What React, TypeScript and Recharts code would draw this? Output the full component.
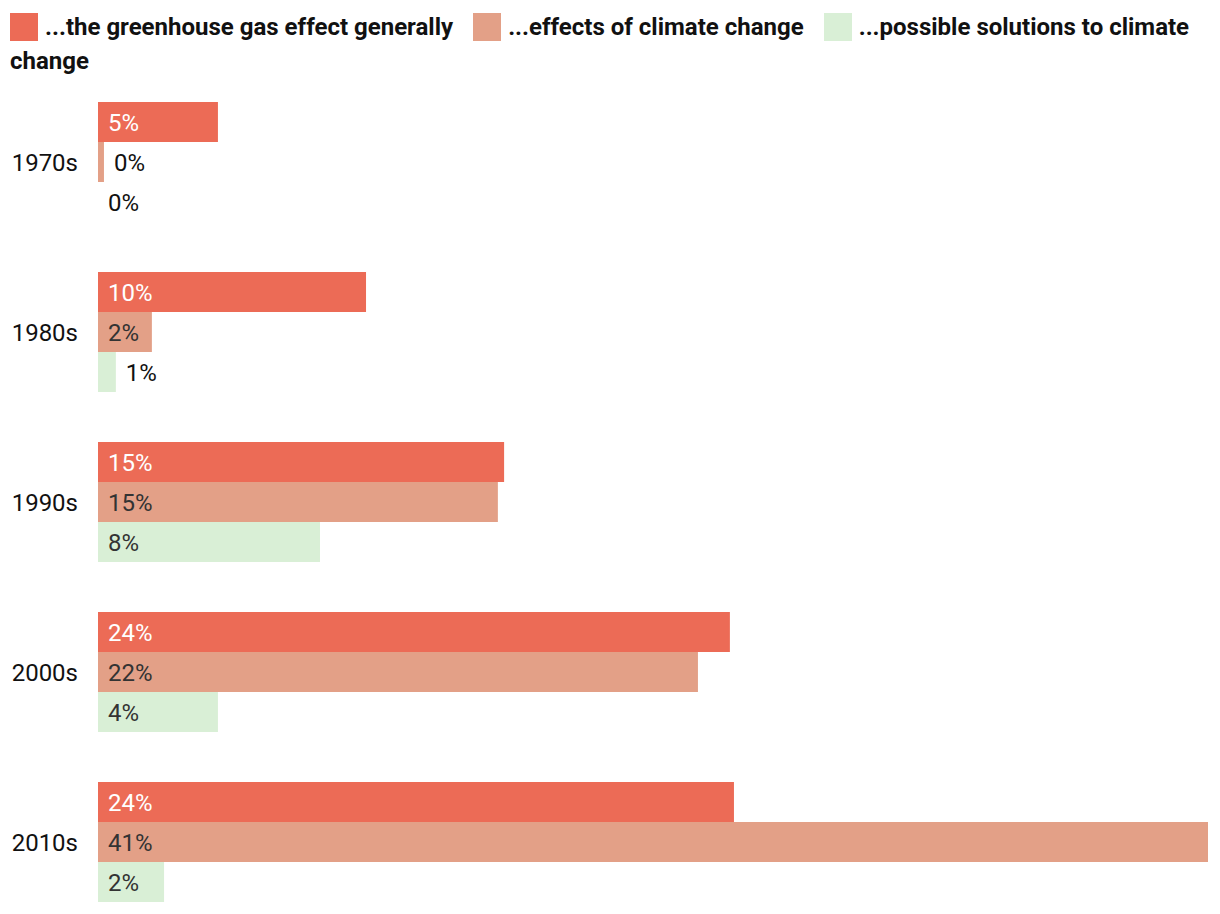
import React from "react";
import { BarChart, Bar, XAxis, YAxis } from "recharts";

const categories = ["1970s", "1980s", "1990s", "2000s", "2010s"];
const seriesNames = [
  "...the greenhouse gas effect generally",
  "...effects of climate change",
  "...possible solutions to climate change",
];
const seriesColors = ["#ec6b56", "#e3a087", "#d9efd6"];
const insideTextColors = ["#ffffff", "#333333", "#333333"];

const greenhouseValues = [4.43, 9.9, 15.0, 23.34, 23.49];
const effectsValues = [0.22, 1.99, 14.77, 22.16, 41.0];
const solutionsValues = [0, 0.66, 8.2, 4.43, 2.44];

const greenhouseLabels = ["5%", "10%", "15%", "24%", "24%"];
const effectsLabels = ["0%", "2%", "15%", "22%", "41%"];
const solutionsLabels = ["0%", "1%", "8%", "4%", "2%"];

const keys = ["greenhouse", "effects", "solutions"];

const data = categories.map((c, i) => ({
  decade: c,
  greenhouse: greenhouseValues[i],
  effects: effectsValues[i],
  solutions: solutionsValues[i],
  greenhouseLabel: greenhouseLabels[i],
  effectsLabel: effectsLabels[i],
  solutionsLabel: solutionsLabels[i],
}));

const FONT = "Roboto, 'Noto Sans', sans-serif";

function makeShape(key: string, fill: string, insideColor: string) {
  return (props: any) => {
    const x = Number(props.x) || 0;
    const y = Number(props.y) || 0;
    const w = Math.max(0, Number(props.width) || 0);
    const h = Number(props.height) || 0;
    const label = props.payload ? props.payload[key + "Label"] : "";
    const inside = w > 40;
    const tx = inside ? x + 10 : x + w + 10;
    return (
      <g>
        {w > 0 && <rect x={x} y={y} width={w} height={h} fill={fill} />}
        <text
          x={tx}
          y={y + h / 2}
          dy="0.355em"
          fill={inside ? insideColor : "#111111"}
          fontSize={24}
          fontFamily={FONT}
          textAnchor="start"
        >
          {label}
        </text>
      </g>
    );
  };
}

export default function App() {
  return (
    <div style={{ position: "relative", width: 1200, height: 898, overflow: "hidden", fontFamily: FONT }}>
      <div
        style={{
          position: "absolute",
          top: 0,
          left: 0,
          width: 1200,
          paddingLeft: 2,
          paddingTop: 2,
          boxSizing: "border-box",
          fontSize: 24,
          fontWeight: 700,
          lineHeight: "34px",
          color: "#111",
          zIndex: 2,
        }}
      >
        {seriesNames.map((name, i) => {
          const words = name.split(" ");
          return (
            <React.Fragment key={name}>
              <span
                style={{
                  display: "inline-block",
                  width: 28,
                  height: 28,
                  background: seriesColors[i],
                  verticalAlign: "-6px",
                  marginRight: 7,
                }}
              />
              {words.map((w, j) => (
                <React.Fragment key={j}>
                  <span style={{ marginRight: j === words.length - 1 ? 20 : 0 }}>{w}</span>
                  {j < words.length - 1 ? " " : null}
                </React.Fragment>
              ))}
            </React.Fragment>
          );
        })}
      </div>
      <BarChart
        width={1200}
        height={919}
        data={data}
        layout="vertical"
        margin={{ top: 69, right: 0, bottom: 0, left: 0 }}
        barGap={0}
        barSize={40}
      >
        <XAxis type="number" hide domain={[0, "dataMax"]} />
        <YAxis
          type="category"
          dataKey="decade"
          width={90}
          axisLine={false}
          tickLine={false}
          tickSize={0}
          tickMargin={20}
          tick={{ fontSize: 24, fill: "#111", fontFamily: FONT }}
        />
        {keys.map((k, i) => (
          <Bar
            key={k}
            dataKey={k}
            fill={seriesColors[i]}
            isAnimationActive={false}
            shape={makeShape(k, seriesColors[i], insideTextColors[i])}
          />
        ))}
      </BarChart>
    </div>
  );
}
